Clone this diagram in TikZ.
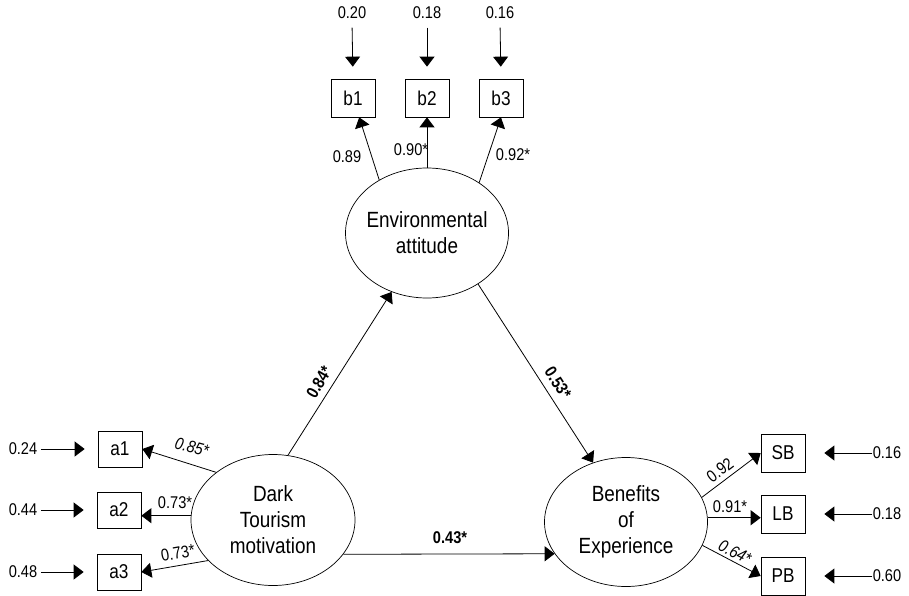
\documentclass[tikz,border=0pt]{standalone}
\usepackage{fontspec}
\setmainfont{Liberation Sans}[FakeStretch=0.86]
\usetikzlibrary{arrows.meta,calc,shapes.geometric}
\begin{document}
\begin{tikzpicture}[x=1pt,y=-1pt,
  arr/.style={line width=0.8pt,-{Triangle[length=10pt,width=15pt]}},
  obs/.style={draw,line width=0.7pt,minimum width=44pt,minimum height=37pt,inner sep=0pt,font=\fontsize{20}{24}\selectfont},
  lat/.style={draw,line width=0.7pt,ellipse,minimum width=163pt,minimum height=130pt,inner sep=0pt},
  lattext/.style={align=center,font=\fontsize{22}{26}\selectfont},
  coef/.style={font=\fontsize{17}{20}\selectfont,inner sep=2pt},
  errl/.style={font=\fontsize{17}{20}\selectfont}
]
\useasboundingbox (0,0) rectangle (909,596);
% latent variables
\node[lat,label={[lattext]center:Environmental\\attitude}] (env) at (427,233) {};
\node[lat,minimum width=164pt,minimum height=131pt,label={[lattext]center:Dark\\Tourism\\motivation}] (dark) at (273,520) {};
\node[lat,minimum height=129pt,label={[lattext]center:Benefits\\of\\Experience}] (ben) at (626,522) {};
% observed
\node[obs,minimum height=38pt] (b1) at (353,98) {b1};
\node[obs,minimum height=38pt] (b2) at (427,98) {b2};
\node[obs,minimum height=38pt] (b3) at (501,98) {b3};
\node[obs,minimum height=36pt] (a1) at (120,449) {a1};
\node[obs,minimum height=36pt] (a2) at (119,510) {a2};
\node[obs,minimum height=36pt] (a3) at (119,572) {a3};
\node[obs,minimum height=38pt] (SB) at (783,453) {SB};
\node[obs,minimum height=38pt] (LB) at (783,514) {LB};
\node[obs,minimum height=38pt] (PB) at (783,576) {PB};
% error terms
\node[errl] (t1) at (352,13) {0.20};
\node[errl] (t2) at (427,13) {0.18};
\node[errl] (t3) at (500,13) {0.16};
\node[errl] (l1) at (23,449) {0.24};
\node[errl] (l2) at (23,510) {0.44};
\node[errl] (l3) at (23,572) {0.48};
\node[errl] (r1) at (887,453) {0.16};
\node[errl] (r2) at (887,514) {0.18};
\node[errl] (r3) at (887,576) {0.60};
\foreach \s/\t in {t1/b1,t2/b2,t3/b3}
  \draw[arr,shorten <=5pt,shorten >=12pt] (\s.south) -- (\t.north);
\foreach \s/\t in {l1/a1,l2/a2,l3/a3}
  \draw[arr,shorten >=13pt] (\s.east) -- (\t.west);
\foreach \s/\t in {r1/SB,r2/LB,r3/PB}
  \draw[arr,shorten <=-3pt,shorten >=19pt] (\s.west) -- (\t.east);
% loadings
\draw[arr] (env.132) -- (b1);
\draw[arr] (env.90) -- (b2);
\draw[arr] (env.44) -- (b3.south);
\draw[arr] (dark.140) -- (a1.east);
\draw[arr] (dark.177) -- (dark.177 -| a2.east);
\draw[arr] (dark.212) -- (a3.east);
\draw[arr] (ben.18) -- (SB.west);
\draw[arr] (ben.3) -- (ben.3 -| LB.west);
\draw[arr] (ben.343) -- (PB.west);
% structural paths
\draw[arr] (dark.77) -- (env.239);
\draw[arr] (env.315) -- (ben.119);
\draw[arr] (dark.-26) -- (ben.204);
% coefficient labels
\node[coef] (c1) at (347,157) {0.89};
\node[coef] (c2) at (411,150) {0.90*};
\node[coef] (c3) at (513,155) {0.92*};
\node[coef,rotate=-15] (c4) at (192,447) {\itshape 0.85*};
\node[coef] (c5) at (175,503) {0.73*};
\node[coef,rotate=10] (c6) at (178,553) {0.73*};
\node[coef,rotate=37] (c7) at (720,470) {0.92};
\node[coef] (c8) at (730,507) {0.91*};
\node[coef,rotate=-27] (c9) at (735,552) {\itshape 0.64*};
\node[coef,rotate=60] (c10) at (319,382) {\bfseries 0.84*};
\node[coef,rotate=-57] (c11) at (558,383) {\bfseries 0.53*};
\node[coef] (c12) at (450,538) {\bfseries 0.43*};
\end{tikzpicture}
\end{document}
